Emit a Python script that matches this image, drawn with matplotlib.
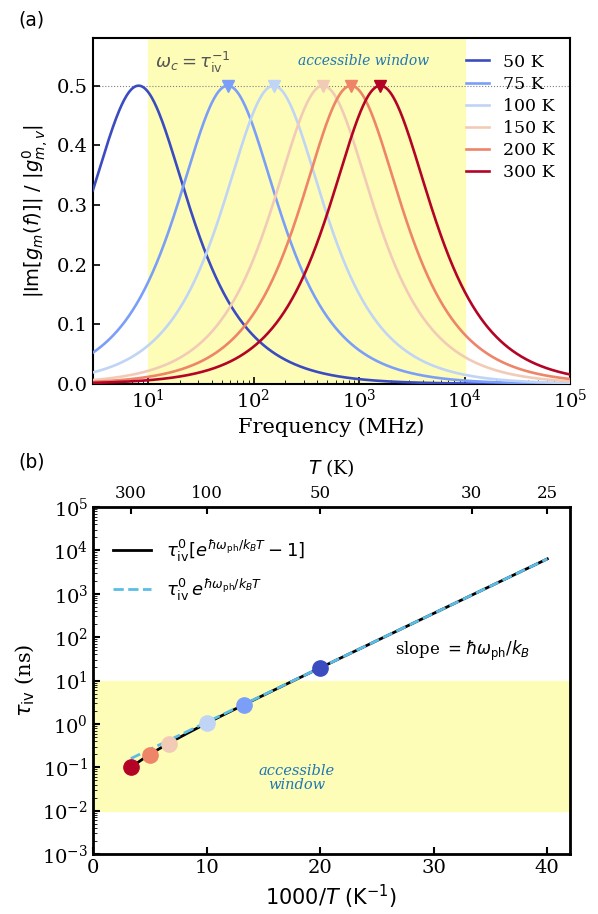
import numpy as np
import matplotlib.pyplot as plt

plt.rcParams['font.family'] = 'DejaVu Serif'
plt.rcParams['mathtext.fontset'] = 'dejavusans'

# temperatures and lifetimes
temps = [50, 75, 100, 150, 200, 300]
tau_ns = [19.6, 2.8, 1.03, 0.35, 0.19, 0.10]
inv_T = [20.0, 13.33, 10.0, 6.67, 5.0, 3.33]
peak_marked = [False, True, True, True, True, True]
colors = plt.cm.coolwarm(np.linspace(0, 1, len(temps)))

# model constants
tau0 = 0.0607      # ns
theta = 289.0      # hbar*w_ph/k_B in K

top_T = [300, 100, 50, 30, 25]

fig = plt.figure(figsize=(5.98, 9.14), dpi=100)
ax1 = fig.add_axes([0.1555, 0.5799, 0.7977, 0.3786])
ax2 = fig.add_axes([0.1555, 0.0656, 0.7977, 0.3797])

# ---------- panel (a)
f = np.logspace(np.log10(3), 5, 600)
ax1.axvspan(10, 1e4, color='#fefdb8', zorder=0)
ax1.axhline(0.5, color='grey', ls=':', lw=0.8, zorder=1)
for T, tau, c, mk in zip(temps, tau_ns, colors, peak_marked):
    wt = 2 * np.pi * f * 1e6 * tau * 1e-9
    ax1.plot(f, wt / (1 + wt**2), color=c, lw=1.9, label='%d K' % T, zorder=3)
    if mk:
        fp = 1 / (2 * np.pi * tau * 1e-9) / 1e6
        ax1.plot([fp], [0.5], 'v', color=c, ms=8, zorder=4)
ax1.set_xscale('log')
ax1.set_xlim(3, 1e5)
ax1.set_ylim(0, 0.58)
ax1.set_yticks([0, 0.1, 0.2, 0.3, 0.4, 0.5])
ax1.tick_params(direction='in', labelsize=14, width=1.2, length=5)
ax1.tick_params(which='minor', direction='in', length=3)
ax1.set_xlabel('Frequency (MHz)', fontsize=15)
ax1.set_ylabel(r'$|\mathrm{Im}[g_m(f)]|\ /\ |g^0_{m,v}|$', fontsize=14)
ax1.text(11.7, 0.539, r'$\omega_c = \tau_{\rm iv}^{-1}$', color='#555555',
         fontsize=13, va='center')
ax1.text(1100, 0.542, 'accessible window', color='#1f77b4', style='italic',
         fontsize=10, ha='center', va='center')
ax1.legend(loc='upper right', frameon=False, fontsize=12.5, handlelength=1.3,
           labelspacing=0.29, borderaxespad=0.5)
for s in ax1.spines.values():
    s.set_linewidth(1.5)
fig.text(0.03, 0.978, '(a)', family='DejaVu Sans', fontsize=13.5, va='center')

# ---------- panel (b)
x = np.linspace(3.33, 40, 300)
ax2.axhspan(1e-2, 1e1, color='#fefdb8', zorder=0)
ax2.plot(x, tau0 * (np.exp(theta * x / 1000) - 1), color='black', lw=2,
         label=r'$\tau_{\rm iv}^0[e^{\hbar\omega_{\rm ph}/k_BT}-1]$', zorder=2)
ax2.plot(x, tau0 * np.exp(theta * x / 1000), color='#5bbde6', ls='--', lw=2,
         label=r'$\tau_{\rm iv}^0\, e^{\hbar\omega_{\rm ph}/k_BT}$', zorder=3)
for xi, yi, c in zip(inv_T, tau_ns, colors):
    ax2.plot([xi], [yi], 'o', color=c, ms=11, zorder=4)
ax2.set_yscale('log')
ax2.set_xlim(0, 42)
ax2.set_ylim(1e-3, 1e5)
ax2.set_xticks([0, 10, 20, 30, 40])
ax2.set_yticks([10.0**k for k in range(-3, 6)])
ax2.tick_params(direction='in', labelsize=14, width=1.5, length=5)
ax2.tick_params(which='minor', direction='in', length=3)
ax2.set_xlabel(r'$1000/T\ (\mathrm{K}^{-1})$', fontsize=15)
ax2.set_ylabel(r'$\tau_{\rm iv}$ (ns)', fontsize=15)
ax2.text(17.9, 0.057, 'accessible\nwindow', color='#1f77b4', style='italic',
         fontsize=10.5, ha='center', va='center', linespacing=1.0)
ax2.text(26.6, 48, r'slope $=\hbar\omega_{\rm ph}/k_B$', fontsize=12,
         va='center')
ax2.legend(loc='upper left', bbox_to_anchor=(-0.01, 0.985), frameon=False,
           fontsize=13, handlelength=2.1, labelspacing=0.7, borderaxespad=1.0)
for s in ax2.spines.values():
    s.set_linewidth(2)

top = ax2.twiny()
top.set_xlim(ax2.get_xlim())
top.set_xticks([1000 / T for T in top_T])
top.set_xticklabels([str(T) for T in top_T])
top.tick_params(direction='in', labelsize=12, width=1.5, length=5)
top.set_xlabel(r'$T$ (K)', fontsize=13.5, labelpad=8)
fig.text(0.03, 0.494, '(b)', family='DejaVu Sans', fontsize=13.5, va='center')

plt.savefig('out.png', dpi=100)
